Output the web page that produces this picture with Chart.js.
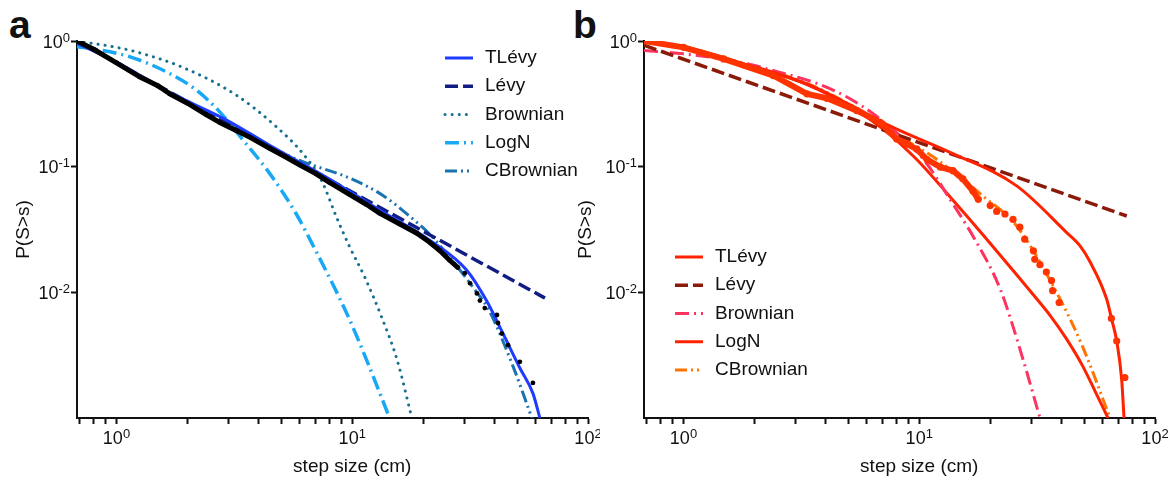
<!DOCTYPE html>
<html>
<head>
<meta charset="utf-8">
<script src="https://cdn.jsdelivr.net/npm/chart.js@4.4.1/dist/chart.umd.min.js"></script>
<style>
  html, body { margin: 0; padding: 0; background: #fff; }
  body { width: 1175px; height: 481px; position: relative; overflow: hidden;
         font-family: "Liberation Sans", Arial, Helvetica, sans-serif; }
  canvas { position: absolute; top: 0; }
  #chartA { left: 0; }
  #chartB { left: 560px; }
  .tag { position: absolute; top: 5px; font-weight: bold; font-size: 39px; line-height: 1; color: #111; }
</style>
</head>
<body>
<div class="tag" style="left:9px">a</div>
<div class="tag" style="left:573px">b</div>
<canvas id="chartA" width="600" height="481"></canvas>
<canvas id="chartB" width="615" height="481"></canvas>
<script>
// ---- panel a: observed steps + fitted models (blue family) ----
const aObsStep = [0.68, 0.8, 1.0, 1.25, 1.5, 1.68, 2.0, 2.4, 2.74, 3.2, 3.67, 4.46, 5.2, 6.0, 7.0, 8.0, 9.76, 11.5, 13.1, 15.9, 18.8, 21.3, 23.5, 25.9, 28.0, 30.0, 31.6, 33.8, 34.8, 36.5, 41.1, 41.5, 43.1, 45.8, 51.4, 58.4];
const aObsProb = [1.0, 0.86, 0.67, 0.52, 0.44, 0.38, 0.32, 0.26, 0.225, 0.195, 0.172, 0.14, 0.12, 0.103, 0.088, 0.075, 0.06, 0.05, 0.0425, 0.035, 0.0295, 0.025, 0.0215, 0.018, 0.0158, 0.0142, 0.0118, 0.0098, 0.0086, 0.0075, 0.0066, 0.0057, 0.0047, 0.0038, 0.0028, 0.0019];

const aTlevyStep = [0.68, 1.0, 1.68, 2.93, 4.46, 7.8, 13.1, 21.3, 30.6, 37.1, 43.6, 51.4, 58.4, 62.5];
const aTlevyProb = [0.96, 0.68, 0.39, 0.235, 0.148, 0.082, 0.045, 0.026, 0.015, 0.0086, 0.0047, 0.0025, 0.00157, 0.001];

const aLevyStep = [0.68, 65.7];
const aLevyProb = [1.0, 0.009];

const aBrownStep = [0.68, 1.0, 1.21, 1.91, 3.22, 4.76, 6.18, 7.4, 8.56, 9.75, 11.3, 13.3, 15.5, 17.9];
const aBrownProb = [1.0, 0.89, 0.82, 0.617, 0.371, 0.208, 0.127, 0.078, 0.04, 0.023, 0.0132, 0.0064, 0.0029, 0.001];

const aLogNStep = [0.68, 0.77, 1.135, 1.626, 2.18, 2.74, 3.44, 4.47, 5.79, 7.04, 8.29, 9.77, 11.5, 14.4];
const aLogNProb = [0.9, 0.874, 0.75, 0.569, 0.407, 0.273, 0.163, 0.088, 0.042, 0.021, 0.0115, 0.006, 0.0029, 0.001];

const aCBrownStep = [0.68, 1.0, 1.68, 2.93, 4.46, 5.98, 9.77, 13.5, 17.6, 21.3, 25.9, 32.5, 38.0, 48.0, 57.8];
const aCBrownProb = [1.0, 0.68, 0.38, 0.23, 0.145, 0.112, 0.081, 0.059, 0.04, 0.029, 0.019, 0.011, 0.0072, 0.0026, 0.001];

// ---- panel b: observed steps + fitted models (red family) ----
const bObsStep = [0.68, 1.0, 1.48, 2.41, 3.34, 4.06, 5.44, 6.83, 8.03, 8.87, 9.76, 10.8, 12.3, 13.9, 15.3, 16.9, 17.8, 20.0, 21.3, 23.1, 25.0, 26.7, 28.0, 30.5, 30.9, 32.5, 34.6, 36.4, 36.8, 39.2, 65.3, 68.8, 74.5];
const bObsProb = [1.0, 0.89, 0.72, 0.53, 0.38, 0.35, 0.279, 0.225, 0.166, 0.151, 0.138, 0.114, 0.099, 0.093, 0.08, 0.064, 0.055, 0.049, 0.044, 0.042, 0.038, 0.033, 0.0265, 0.0214, 0.0183, 0.0166, 0.0145, 0.0124, 0.0103, 0.0083, 0.0062, 0.0041, 0.0021];

const bTlevyStep = [0.68, 1.0, 1.74, 3.34, 5.1, 7.54, 13.5, 25.9, 42.2, 48.0, 53.0, 62.4, 65.5, 68.8, 72.2, 73.9];
const bTlevyProb = [1.0, 0.9, 0.67, 0.455, 0.31, 0.21, 0.13, 0.0703, 0.0299, 0.0235, 0.0175, 0.0088, 0.0061, 0.0041, 0.00203, 0.001];

const bLevyStep = [0.68, 75.9];
const bLevyProb = [0.925, 0.0405];

const bBrownStep = [0.68, 1.0, 1.6, 2.57, 4.06, 5.7, 7.2, 10.4, 13.5, 17.5, 22.1, 27.6, 32.5];
const bBrownProb = [0.84, 0.79, 0.70, 0.563, 0.428, 0.305, 0.22, 0.115, 0.055, 0.025, 0.0105, 0.0029, 0.001];

const bLogNStep = [0.68, 1.0, 1.74, 3.34, 5.1, 7.0, 9.76, 13.5, 18.7, 25.9, 31.6, 36.0, 42.0, 49.3, 56.0, 63.2];
const bLogNProb = [1.0, 0.89, 0.67, 0.45, 0.30, 0.2, 0.114, 0.0577, 0.0285, 0.0138, 0.0088, 0.0065, 0.0043, 0.0026, 0.0016, 0.001];

const bCBrownStep = [0.68, 1.0, 1.74, 3.34, 5.44, 8.0, 11.9, 18.7, 25.9, 39.6, 49.3, 64.5];
const bCBrownProb = [1.0, 0.9, 0.67, 0.46, 0.29, 0.18, 0.114, 0.058, 0.0337, 0.0088, 0.0037, 0.001];

// axis ticks
const xTickVals = [0.7, 0.8, 0.9, 1, 2, 3, 4, 5, 6, 7, 8, 9, 10, 20, 30, 40, 50, 60, 70, 80, 90, 100];
const yTickVals = [1, 0.1, 0.01];

const FONT = '"Liberation Sans", Arial, Helvetica, sans-serif';
const INK = '#111';

const pts = (xs, ys) => xs.map((x, i) => ({ x: x, y: ys[i] }));

function curve(label, xs, ys, color, width, dash, cap) {
  return {
    label: label,
    data: pts(xs, ys),
    borderColor: color,
    borderWidth: width,
    borderDash: dash || [],
    borderCapStyle: cap || 'butt',
    pointRadius: 0,
    fill: false,
    cubicInterpolationMode: 'monotone'
  };
}

// observed data: thick trace where samples are dense, loose dots in the tail
function observed(xs, ys, color, width, radius, denseUntil) {
  return {
    label: 'data',
    data: pts(xs, ys),
    borderColor: color,
    borderWidth: width,
    borderJoinStyle: 'round',
    borderCapStyle: 'round',
    backgroundColor: color,
    pointRadius: radius,
    pointBorderWidth: 0,
    pointBackgroundColor: color,
    tension: 0,
    segment: {
      borderColor: c => c.p1.parsed.x > denseUntil ? 'rgba(0,0,0,0)' : color
    }
  };
}

// "10" with a raised exponent
function powLabel(ctx, exp, x, base, align) {
  ctx.font = '18px ' + FONT;
  const wb = ctx.measureText('10').width;
  ctx.font = '13px ' + FONT;
  const sup = String(exp);
  const ws = ctx.measureText(sup).width;
  const left = align === 'right' ? x - wb - ws : x - (wb + ws) / 2;
  ctx.textAlign = 'left';
  ctx.textBaseline = 'alphabetic';
  ctx.font = '18px ' + FONT;
  ctx.fillText('10', left, base);
  ctx.font = '13px ' + FONT;
  ctx.fillText(sup, left + wb, base - 6);
}

const axisText = {
  id: 'axisText',
  afterDraw(chart, args, o) {
    const ctx = chart.ctx;
    const xs = chart.scales.x, ys = chart.scales.y;
    ctx.save();
    ctx.fillStyle = INK;
    xs.ticks.forEach(t => {
      const e = Math.log10(t.value);
      if (Math.abs(e - Math.round(e)) > 1e-9) return;
      powLabel(ctx, Math.round(e), xs.getPixelForValue(t.value), xs.top + 26, 'center');
    });
    ys.ticks.forEach(t => {
      const e = Math.round(Math.log10(t.value));
      powLabel(ctx, e, ys.right - 7, ys.getPixelForValue(t.value) + 6.5, 'right');
    });
    // x title sits under the 10^1 tick
    ctx.font = '19px ' + FONT;
    ctx.textAlign = 'center';
    ctx.textBaseline = 'middle';
    ctx.fillText('step size (cm)', xs.getPixelForValue(10), xs.top + 49);
    ctx.translate(o.yTitleX, (ys.top + ys.bottom) / 2);
    ctx.rotate(-Math.PI / 2);
    ctx.fillText('P(S>s)', 0, 0);
    ctx.restore();
  }
};

const curveKey = {
  id: 'curveKey',
  afterDraw(chart, args, o) {
    const ctx = chart.ctx;
    ctx.save();
    chart.data.datasets.filter(d => d.label !== 'data').forEach((d, i) => {
      const y = o.top + i * o.step;
      ctx.beginPath();
      ctx.strokeStyle = d.borderColor;
      ctx.lineWidth = d.borderWidth;
      ctx.lineCap = d.borderCapStyle || 'butt';
      ctx.setLineDash(d.borderDash || []);
      ctx.moveTo(o.left, y);
      ctx.lineTo(o.left + 28, y);
      ctx.stroke();
      ctx.setLineDash([]);
      ctx.fillStyle = INK;
      ctx.font = '19px ' + FONT;
      ctx.textAlign = 'left';
      ctx.textBaseline = 'middle';
      ctx.fillText(d.label, o.left + 40, y);
    });
    ctx.restore();
  }
};

function makeChart(id, datasets, padding, yWidth, keyPos, yTitleX) {
  return new Chart(document.getElementById(id), {
    type: 'line',
    data: { datasets: datasets },
    options: {
      responsive: false,
      animation: false,
      events: [],
      layout: { padding: padding },
      scales: {
        x: {
          type: 'logarithmic',
          min: 0.68,
          max: 100,
          afterFit: s => { s.height = 63; },
          afterBuildTicks: s => { s.ticks = xTickVals.map(v => ({ value: v })); },
          ticks: { display: false },
          grid: { drawOnChartArea: false, drawTicks: true, tickLength: 6, tickWidth: 2, tickColor: INK },
          border: { display: true, color: INK, width: 2 }
        },
        y: {
          type: 'logarithmic',
          min: 0.001,
          max: 1,
          afterFit: s => { s.width = yWidth; },
          afterBuildTicks: s => { s.ticks = yTickVals.map(v => ({ value: v })); },
          ticks: { display: false },
          grid: { drawOnChartArea: false, drawTicks: true, tickLength: 6, tickWidth: 2, tickColor: INK },
          border: { display: true, color: INK, width: 2 }
        }
      },
      plugins: {
        legend: { display: false },
        tooltip: { enabled: false },
        axisText: { yTitleX: yTitleX },
        curveKey: keyPos
      }
    },
    plugins: [axisText, curveKey]
  });
}

// first dataset is painted last, so the observations sit on top
makeChart('chartA', [
  observed(aObsStep, aObsProb, '#000', 5, 2.4, 28),
  curve('TLévy', aTlevyStep, aTlevyProb, '#1d3cff', 3),
  curve('Lévy', aLevyStep, aLevyProb, '#101d82', 3.5, [13, 5]),
  curve('Brownian', aBrownStep, aBrownProb, '#17708f', 3, [0.1, 7], 'round'),
  curve('LogN', aLogNStep, aLogNProb, '#18a8f5', 3.5, [14, 5, 2, 5]),
  curve('CBrownian', aCBrownStep, aCBrownProb, '#1873b0', 3, [12, 4, 2, 4, 2, 4])
], { left: 0, right: 12, top: 41, bottom: 0 }, 77, { left: 445, top: 58, step: 28.25 }, 24);

makeChart('chartB', [
  observed(bObsStep, bObsProb, '#ff3300', 6, 3.6, 18),
  curve('TLévy', bTlevyStep, bTlevyProb, '#ff2200', 3),
  curve('Lévy', bLevyStep, bLevyProb, '#8c1a08', 3.5, [13, 5]),
  curve('Brownian', bBrownStep, bBrownProb, '#ff3360', 3, [14, 5, 2, 5]),
  curve('LogN', bLogNStep, bLogNProb, '#ff2200', 3),
  curve('CBrownian', bCBrownStep, bCBrownProb, '#ff7400', 3, [12, 4, 2, 4, 2, 4])
], { left: 0, right: 20, top: 41, bottom: 0 }, 84, { left: 115, top: 257, step: 28.25 }, 26);
</script>
</body>
</html>
